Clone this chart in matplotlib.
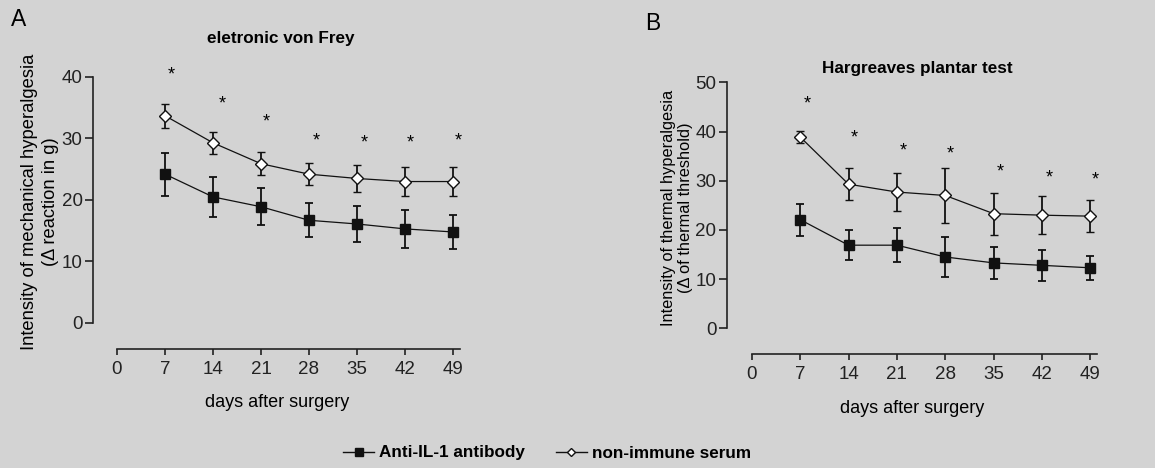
import matplotlib
matplotlib.use("Agg")
import matplotlib.pyplot as plt
from matplotlib.lines import Line2D

plt.rcParams['font.family'] = ['Liberation Sans', 'DejaVu Sans']

# ---------------- data ----------------
days = [7, 14, 21, 28, 35, 42, 49]
xticks = [0, 7, 14, 21, 28, 35, 42, 49]

# Panel A: electronic von Frey
a_anti = [24.2, 20.5, 18.9, 16.7, 16.1, 15.3, 14.8]
a_anti_err = [3.5, 3.3, 3.0, 2.8, 3.0, 3.15, 2.7]
a_serum = [33.7, 29.3, 25.9, 24.2, 23.5, 23.0, 23.0]
a_serum_err = [1.95, 1.8, 1.85, 1.75, 2.2, 2.35, 2.4]
a_star_x = [7.9, 15.3, 21.7, 29.1, 36.0, 42.7, 49.7]
a_star_y = [40.3, 35.6, 32.7, 29.6, 29.3, 29.3, 29.6]
a_yticks = [0, 10, 20, 30, 40]

# Panel B: Hargreaves plantar test
b_anti = [22.1, 16.9, 16.9, 14.5, 13.3, 12.8, 12.3]
b_anti_err = [3.25, 3.0, 3.5, 4.1, 3.25, 3.1, 2.5]
b_serum = [38.9, 29.3, 27.7, 27.0, 23.3, 23.0, 22.8]
b_serum_err = [1.3, 3.25, 3.9, 5.5, 4.3, 3.85, 3.2]
b_star_x = [8.0, 14.8, 21.9, 28.7, 36.0, 43.0, 49.65]
b_star_y = [45.6, 38.7, 36.1, 35.5, 31.8, 30.6, 30.1]
b_yticks = [0, 10, 20, 30, 40, 50]

label_anti = "Anti-IL-1 antibody"
label_serum = "non-immune serum"

BG = '#d3d3d3'
INK = '#111111'
W, H = 1155, 468
fig = plt.figure(figsize=(W / 100, H / 100), dpi=100, facecolor=BG)


def style(ax, ytop):
    ax.set_facecolor('none')
    for s in ['top', 'right']:
        ax.spines[s].set_visible(False)
    ax.spines['left'].set_bounds(0, ytop)
    ax.spines['bottom'].set_bounds(0, 50)
    for s in ['left', 'bottom']:
        ax.spines[s].set_linewidth(1.2)
        ax.spines[s].set_color('#222222')
    ax.tick_params(axis='y', direction='out', length=5.5, width=1.2, labelsize=13.5, pad=2, colors='#222222')
    ax.tick_params(axis='x', direction='out', length=4.5, width=1.2, labelsize=13.5, pad=4, colors='#222222')
    ax.set_xticks(xticks)


def draw(ax, anti, anti_err, serum, serum_err, sx, sy):
    ax.errorbar(days, serum, yerr=serum_err, fmt='-', color=INK, lw=0.9,
                elinewidth=1.3, capsize=3, capthick=1.3, zorder=2,
                marker='D', ms=5.8, mfc='white', mec=INK, mew=1.0)
    ax.errorbar(days, anti, yerr=anti_err, fmt='-', color=INK, lw=0.9,
                elinewidth=1.3, capsize=3, capthick=1.3, zorder=3,
                marker='s', ms=7.5, mfc=INK, mec=INK)
    for x, y in zip(sx, sy):
        ax.text(x, y, '*', ha='center', va='center', fontsize=13, clip_on=False)


# Panel A
axA = fig.add_axes([93 / W, 1 - 348.8 / H, 368.2 / W, 284.1 / H])
axA.set_xlim(-3.5, 50.2)
axA.set_ylim(-4.2, 42)
style(axA, 40)
axA.set_yticks(a_yticks)
draw(axA, a_anti, a_anti_err, a_serum, a_serum_err, a_star_x, a_star_y)
axA.set_xlabel('days after surgery', fontsize=13, labelpad=12)

# Panel B
axB = fig.add_axes([726.7 / W, 1 - 354.3 / H, 371.4 / W, 281.8 / H])
axB.set_xlim(-3.62, 50.1)
axB.set_ylim(-5.28, 52)
style(axB, 50)
axB.set_yticks(b_yticks)
draw(axB, b_anti, b_anti_err, b_serum, b_serum_err, b_star_x, b_star_y)
axB.set_xlabel('days after surgery', fontsize=13, labelpad=12)

# Y labels (two lines, rotated)
fig.text(40 / W, 1 - 202 / H, 'Intensity of mechanical hyperalgesia\n(\u0394 reaction in g)',
         rotation=90, ha='center', va='center', multialignment='center',
         fontsize=13.2, linespacing=1.25)
fig.text(677 / W, 1 - 207.5 / H, 'Intensity of thermal hyperalgesia\n(\u0394 of thermal threshold)',
         rotation=90, ha='center', va='center', multialignment='center',
         fontsize=11.8, linespacing=1.2)

# Titles and panel letters
fig.text(281 / W, 1 - 39 / H, 'eletronic von Frey', ha='center', va='center',
         fontsize=12.3, fontweight='bold')
fig.text(917 / W, 1 - 68 / H, 'Hargreaves plantar test', ha='center', va='center',
         fontsize=12.3, fontweight='bold')
fig.text(19 / W, 1 - 19 / H, 'A', ha='center', va='center', fontsize=16.5)
fig.text(653 / W, 1 - 24 / H, 'B', ha='center', va='center', fontsize=16.5)

# Legend
handles = [
    Line2D([], [], color=INK, lw=1.0, marker='s', ms=6.0, mfc=INK, mec=INK),
    Line2D([], [], color=INK, lw=1.0, marker='D', ms=4.2, mfc='white', mec=INK),
]
fig.legend(handles, [label_anti, label_serum], loc='center', ncol=2,
           bbox_to_anchor=(547 / W, 1 - 453 / H), frameon=False,
           prop={'weight': 'bold', 'size': 12.3},
           handlelength=1.8, handletextpad=0.3, columnspacing=1.8)

fig.savefig('out.png', dpi=100, facecolor=BG)
